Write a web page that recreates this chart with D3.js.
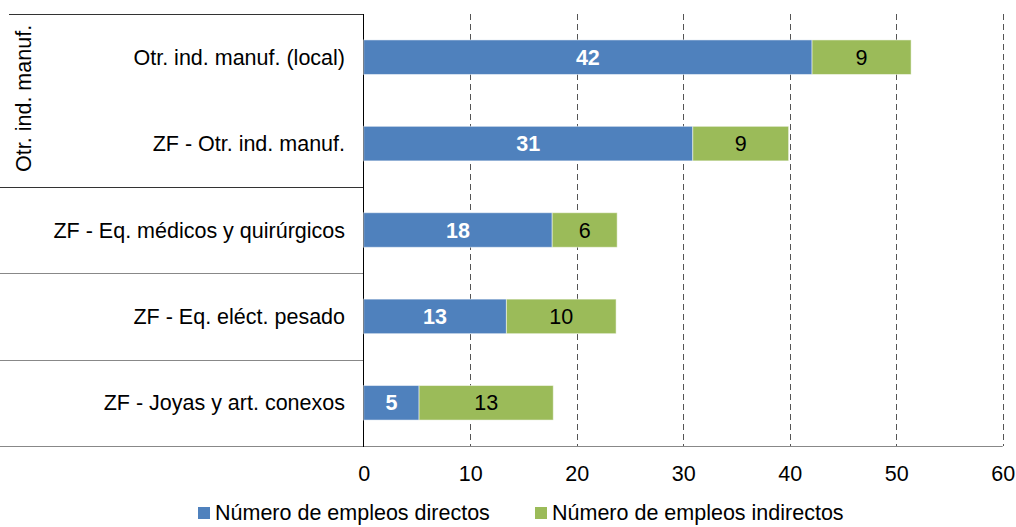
<!DOCTYPE html>
<html>
<head>
<meta charset="utf-8">
<script src="https://cdn.jsdelivr.net/npm/d3@7"></script>
<style>
  body { margin: 0; background: #fff; }
  text { font-family: "Liberation Sans", Arial, sans-serif; }
</style>
</head>
<body>
<svg></svg>
<script>
// categories, top to bottom
var categories = [
  "Otr. ind. manuf. (local)",
  "ZF - Otr. ind. manuf.",
  "ZF - Eq. médicos y quirúrgicos",
  "ZF - Eq. eléct. pesado",
  "ZF - Joyas y art. conexos"
];
// outer group label for each category ("" = none)
var groups = ["Otr. ind. manuf.", "Otr. ind. manuf.", "", "", ""];
// series values
var directos = [42.1, 30.9, 17.7, 13.4, 5.2];
var indirectos = [9.3, 9.0, 6.1, 10.3, 12.6];
var seriesNames = ["Número de empleos directos", "Número de empleos indirectos"];
var ticks = [0, 10, 20, 30, 40, 50, 60];

var width = 1016, height = 527;
var blue = "#4F81BD", green = "#9BBB59";
var fs = "21.5px";

var svg = d3.select("svg")
    .attr("width", width)
    .attr("height", height);

var x = d3.scaleLinear()
    .domain([0, 60])
    .range([363.7, 1002.7]);

var y = d3.scaleBand()
    .domain(categories)
    .range([14, 446])
    .paddingInner(0.6)
    .paddingOuter(0.3);

var half = (y.step() - y.bandwidth()) / 2;

// dashed vertical gridlines
svg.selectAll(".grid")
    .data(ticks.slice(1))
    .enter()
    .append("line")
    .attr("x1", function(d) { return Math.round(x(d)) + 0.5; })
    .attr("x2", function(d) { return Math.round(x(d)) + 0.5; })
    .attr("y1", 14)
    .attr("y2", 446)
    .attr("stroke", "#555")
    .attr("stroke-dasharray", "6,4");

// bottom axis line
svg.append("line")
    .attr("x1", x(0)).attr("x2", x(60))
    .attr("y1", 446.5).attr("y2", 446.5)
    .attr("stroke", "#888");

// tick labels
var xAxis = d3.axisBottom(x).tickValues(ticks).tickSize(0).tickPadding(0);
var gx = svg.append("g")
    .attr("transform", "translate(0,466)")
    .call(xAxis);
gx.select(".domain").remove();
gx.selectAll("text")
    .attr("dy", "0.71em")
    .style("font-family", "'Liberation Sans', Arial, sans-serif")
    .style("font-size", fs)
    .attr("fill", "#000");

// category box lines
var rowTops = categories.map(function(c) { return y(c) - half; });
svg.append("line")
    .attr("x1", 9).attr("x2", 364)
    .attr("y1", 14.5).attr("y2", 14.5)
    .attr("stroke", "#333");
categories.forEach(function(c, i) {
  var bottom = y(c) + y.bandwidth() + half;
  // skip the line inside a group
  if (i < categories.length - 1 && groups[i] !== "" && groups[i] === groups[i + 1]) return;
  svg.append("line")
    .attr("x1", 0).attr("x2", 364)
    .attr("y1", Math.round(bottom) + 0.5).attr("y2", Math.round(bottom) + 0.5)
    .attr("stroke", i === 1 ? "#333" : "#888");
});

// vertical axis line
svg.append("line")
    .attr("x1", 363.5).attr("x2", 363.5)
    .attr("y1", 14).attr("y2", 447)
    .attr("stroke", "#000");

// category labels
svg.selectAll(".cat")
    .data(categories)
    .enter()
    .append("text")
    .attr("x", 345)
    .attr("y", function(d) { return y(d) + y.bandwidth() / 2; })
    .attr("dy", "0.35em")
    .attr("text-anchor", "end")
    .style("font-size", fs)
    .text(function(d) { return d; });

// group label (rotated)
var g0 = groups[0];
var gIdx = groups.map(function(g, i) { return g === g0 ? i : -1; }).filter(function(i) { return i >= 0; });
var gTop = rowTops[gIdx[0]];
var gBot = y(categories[gIdx[gIdx.length - 1]]) + y.bandwidth() + half;
svg.append("text")
    .attr("transform", "translate(23," + ((gTop + gBot) / 2 - 2) + ") rotate(-90)")
    .attr("dy", "0.35em")
    .attr("text-anchor", "middle")
    .style("font-size", fs)
    .text(g0);

// bars
var rows = categories.map(function(c, i) {
  return { cat: c, d: directos[i], ind: indirectos[i] };
});

svg.selectAll(".bar-d")
    .data(rows)
    .enter()
    .append("rect")
    .attr("x", x(0))
    .attr("y", function(r) { return y(r.cat); })
    .attr("width", function(r) { return x(r.d) - x(0); })
    .attr("height", y.bandwidth())
    .attr("fill", blue)
    .attr("stroke", "rgba(255,255,255,0.5)")
    .attr("stroke-width", 1);

svg.selectAll(".bar-i")
    .data(rows)
    .enter()
    .append("rect")
    .attr("x", function(r) { return x(r.d); })
    .attr("y", function(r) { return y(r.cat); })
    .attr("width", function(r) { return x(r.d + r.ind) - x(r.d); })
    .attr("height", y.bandwidth())
    .attr("fill", green)
    .attr("stroke", "rgba(255,255,255,0.5)")
    .attr("stroke-width", 1);

// value labels
svg.selectAll(".lab-d")
    .data(rows)
    .enter()
    .append("text")
    .attr("x", function(r) { return (x(0) + x(r.d)) / 2; })
    .attr("y", function(r) { return y(r.cat) + y.bandwidth() / 2; })
    .attr("dy", "0.35em")
    .attr("text-anchor", "middle")
    .attr("fill", "#fff")
    .style("font-size", fs)
    .style("font-weight", "bold")
    .text(function(r) { return d3.format(".0f")(r.d); });

svg.selectAll(".lab-i")
    .data(rows)
    .enter()
    .append("text")
    .attr("x", function(r) { return (x(r.d) + x(r.d + r.ind)) / 2; })
    .attr("y", function(r) { return y(r.cat) + y.bandwidth() / 2; })
    .attr("dy", "0.35em")
    .attr("text-anchor", "middle")
    .attr("fill", "#000")
    .style("font-size", fs)
    .text(function(r) { return d3.format(".0f")(r.ind); });

// legend
var legendX = [198, 535];
var legend = svg.selectAll(".legend")
    .data(seriesNames)
    .enter()
    .append("g")
    .attr("transform", function(d, i) { return "translate(" + legendX[i] + ",507)"; });
legend.append("rect")
    .attr("width", 12)
    .attr("height", 12)
    .attr("fill", function(d, i) { return i === 0 ? blue : green; });
legend.append("text")
    .attr("x", 17)
    .attr("y", 5)
    .attr("dy", "0.35em")
    .style("font-size", fs)
    .text(function(d) { return d; });
</script>
</body>
</html>
